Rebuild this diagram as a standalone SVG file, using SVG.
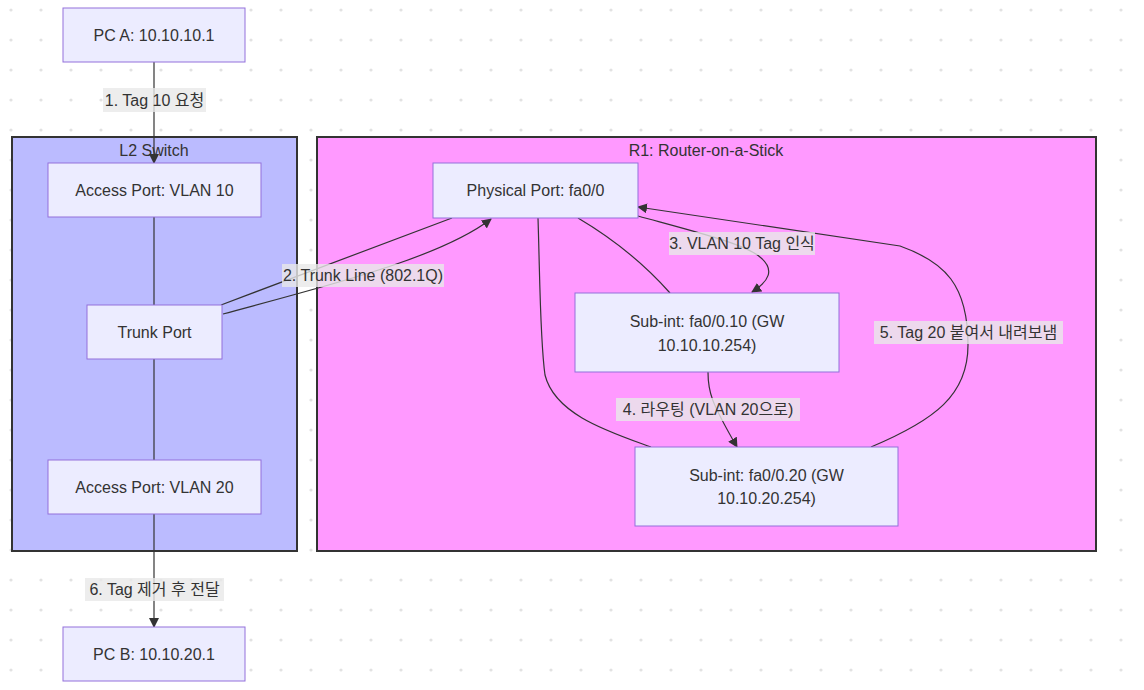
<svg xmlns="http://www.w3.org/2000/svg" width="1144" height="690" viewBox="0 0 1144 690">
<defs>
<pattern id="dots" x="0" y="0" width="30" height="30" patternUnits="userSpaceOnUse">
<circle cx="11" cy="10" r="1.6" fill="#e2e2e2"/>
</pattern>
<marker id="arr" viewBox="0 0 10 10" refX="9" refY="5" markerWidth="10" markerHeight="10" markerUnits="userSpaceOnUse" orient="auto">
<path d="M0,0 L10,5 L0,10 z" fill="#333"/>
</marker>
<style>
.node rect{fill:#ECECFF;stroke:#9370DB;stroke-width:1}
.t{font-family:"Liberation Sans","Noto Sans CJK KR",sans-serif;font-size:16px;fill:#333;text-anchor:middle;dominant-baseline:central}
.cl{stroke:#333;stroke-width:2}
.e{fill:none;stroke:#333;stroke-width:1.2}
.lb{fill:#e8e8e8;opacity:0.8}
</style>
</defs>
<rect width="1144" height="690" fill="#fff"/>
<rect width="1144" height="690" fill="url(#dots)"/>

<g id="cluster-l2">
<rect class="cl" x="12" y="137" width="285" height="414" fill="#bbf"/>
<text class="t" x="154" y="150">L2 Switch</text>
</g>
<g id="cluster-r1">
<rect class="cl" x="317" y="137" width="779" height="414" fill="#f9f"/>
<text class="t" x="706" y="150">R1: Router-on-a-Stick</text>
</g>

<g id="connectors">
<path class="e" d="M154,62 L154,163" marker-end="url(#arr)"/>
<path class="e" d="M154,217 L154,305"/>
<path class="e" d="M154,359 L154,460"/>
<path class="e" d="M154,514 L154,627" marker-end="url(#arr)"/>
<path class="e" d="M221,305 C300,275 380,245 452,218"/>
<path class="e" d="M223,314 C330,285 440,258 491,219" marker-end="url(#arr)"/>
<path class="e" d="M638,216 C700,233 745,244 760,257 C776,270 768,282 752,292" marker-end="url(#arr)"/>
<path class="e" d="M578,218 Q632,250 670,293"/>
<path class="e" d="M538,218 C540,280 540,340 545,375 C555,415 610,432 651,447"/>
<path class="e" d="M708,372 C708,392 711,402 737,447" marker-end="url(#arr)"/>
<path class="e" d="M871,447 C935,420 968,395 968,345 C968,285 945,262 900,246 L638,207" marker-end="url(#arr)"/>
</g>

<g id="edge-labels">
<rect class="lb" x="103" y="88" width="103" height="24"/>
<text class="t" x="154.5" y="100">1. Tag 10 요청</text>
<rect class="lb" x="282" y="264" width="162" height="23"/>
<text class="t" x="363" y="275.5">2. Trunk Line (802.1Q)</text>
<rect class="lb" x="669" y="232" width="146" height="23"/>
<text class="t" x="742" y="243.5">3. VLAN 10 Tag 인식</text>
<rect class="lb" x="616" y="398" width="184" height="23"/>
<text class="t" x="708" y="409.5">4. 라우팅 (VLAN 20으로)</text>
<rect class="lb" x="874" y="321" width="189" height="23"/>
<text class="t" x="968.5" y="332.5">5. Tag 20 붙여서 내려보냄</text>
<rect class="lb" x="85" y="578" width="139" height="23"/>
<text class="t" x="154.5" y="589.5">6. Tag 제거 후 전달</text>
</g>

<g id="pca" class="node">
<rect x="63" y="8" width="182" height="54"/>
<text class="t" x="154" y="35">PC A: 10.10.10.1</text>
</g>
<g id="access10" class="node">
<rect x="48" y="163" width="213" height="54"/>
<text class="t" x="154.5" y="190">Access Port: VLAN 10</text>
</g>
<g id="trunk" class="node">
<rect x="87" y="305" width="135" height="54"/>
<text class="t" x="154.5" y="332">Trunk Port</text>
</g>
<g id="access20" class="node">
<rect x="48" y="460" width="213" height="54"/>
<text class="t" x="154.5" y="487">Access Port: VLAN 20</text>
</g>
<g id="pcb" class="node">
<rect x="63" y="627" width="182" height="54"/>
<text class="t" x="154" y="654">PC B: 10.10.20.1</text>
</g>
<g id="physical" class="node">
<rect x="433" y="163" width="205" height="55"/>
<text class="t" x="535.5" y="190.5">Physical Port: fa0/0</text>
</g>
<g id="sub10" class="node">
<rect x="575" y="293" width="264" height="79"/>
<text class="t" x="707" y="321">Sub-int: fa0/0.10 (GW</text>
<text class="t" x="707" y="345">10.10.10.254)</text>
</g>
<g id="sub20" class="node">
<rect x="635" y="447" width="263" height="79"/>
<text class="t" x="766.5" y="475">Sub-int: fa0/0.20 (GW</text>
<text class="t" x="766.5" y="498">10.10.20.254)</text>
</g>
</svg>
